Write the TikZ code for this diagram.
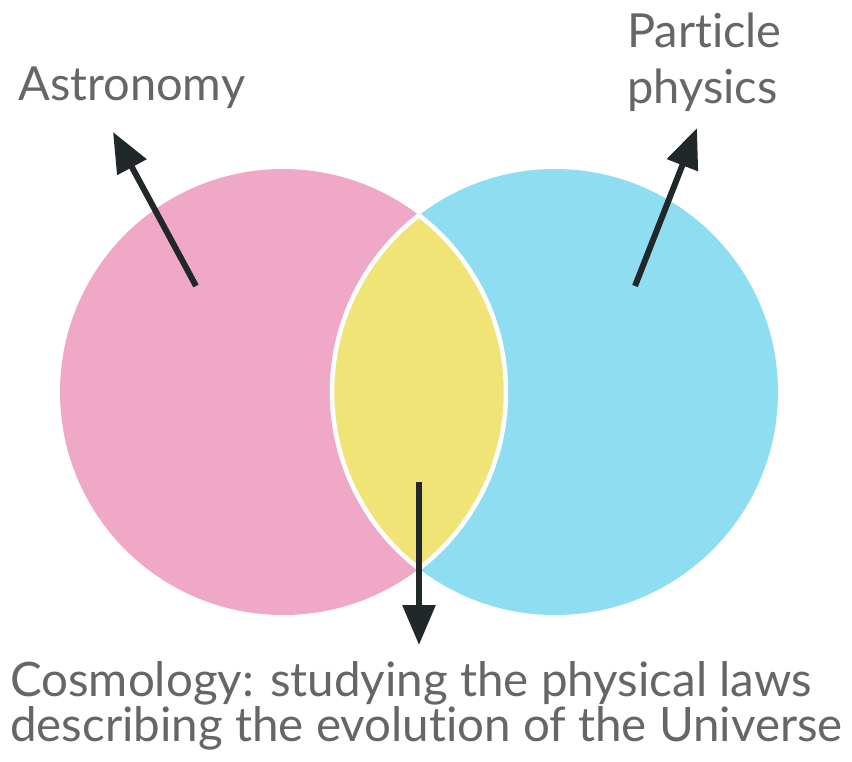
\documentclass[tikz,border=0pt]{standalone}
\usepackage{fontspec}
\setmainfont{Lato}[Ligatures={NoCommon,NoRequired,NoContextual}]
\usetikzlibrary{arrows.meta}
\definecolor{pinkc}{RGB}{240,168,199}
\definecolor{bluec}{RGB}{143,221,240}
\definecolor{yellowc}{RGB}{240,228,118}
\definecolor{arrowc}{RGB}{32,40,42}
\definecolor{textc}{RGB}{102,102,102}
\tikzset{
  lbl/.style={anchor=base west, inner sep=0pt, text=textc, font=\fontsize{47}{47}\selectfont},
  lblb/.style={lbl, font=\fontsize{47.5}{47.5}\selectfont},
  pointer/.style={draw=arrowc, line width=6pt, -{Triangle[length=40pt,width=32pt]}},
  border/.style={draw=white, line width=4.5pt}
}
\begin{document}
\begin{tikzpicture}[x=1pt,y=-1pt]
\useasboundingbox (0,0) rectangle (852,761);
\fill[pinkc] (283,392) circle[radius=223pt];
\fill[bluec] (555,392) circle[radius=223pt];
\begin{scope}
  \clip (283,392) circle[radius=223pt];
  \fill[yellowc] (555,392) circle[radius=223pt];
  \draw[border] (555,392) circle[radius=223pt];
\end{scope}
\begin{scope}
  \clip (555,392) circle[radius=223pt];
  \draw[border] (283,392) circle[radius=223pt];
\end{scope}
\node[lbl] (astro) at (18,100) {Astronomy};
\node[lbl] (part1) at (627,47) {Particle};
\node[lbl] (part2) at (627,103) {physics};
\node[lblb] (cos1) at (10,696) {Cosmology: studying the physical laws};
\node[lblb] (cos2) at (10,741) {describing the evolution of the Universe};
\coordinate (a1) at (196,286);
\coordinate (a2) at (113,132);
\coordinate (b1) at (635,286);
\coordinate (b2) at (697,128);
\coordinate (c1) at (419,482);
\coordinate (c2) at (419,645);
\draw[pointer] (a1) -- (a2);
\draw[pointer] (b1) -- (b2);
\draw[pointer] (c1) -- (c2);
\end{tikzpicture}
\end{document}
